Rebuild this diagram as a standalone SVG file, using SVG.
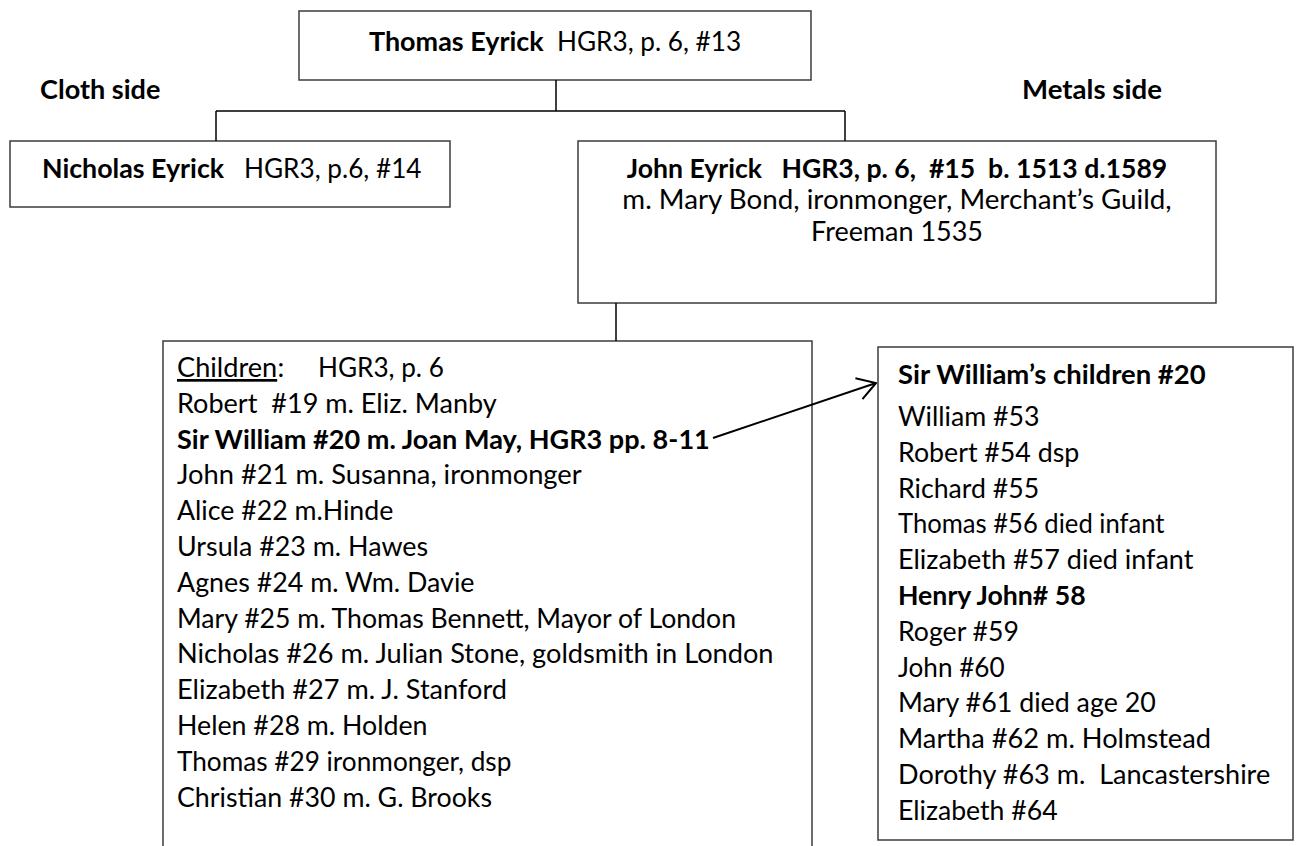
<svg xmlns="http://www.w3.org/2000/svg" width="1301" height="846" viewBox="0 0 1301 846" xml:space="preserve">
<style>
.box{fill:#fff;stroke:#3c3c3c;stroke-width:1.5}
.con{fill:none;stroke:#000;stroke-width:1.5}
.arr{fill:none;stroke:#000;stroke-width:2}
text{font-family:Lato,"Liberation Sans",sans-serif;font-size:27px;fill:#000;white-space:pre}
.b{font-weight:bold}
.m{text-anchor:middle}
</style>
<defs>
<marker id="open" markerUnits="userSpaceOnUse" viewBox="0 0 20 24" refX="19" refY="12" markerWidth="20" markerHeight="24" orient="auto">
<path d="M1,1 L19,12 L1,23" fill="none" stroke="#000" stroke-width="2"/>
</marker>
</defs>
<rect width="1301" height="846" fill="#fff"/>
<g id="label-cloth"><text class="b" x="40" y="99" textLength="120.4" lengthAdjust="spacingAndGlyphs">Cloth side</text></g>
<g id="label-metals"><text class="b" x="1022" y="99" textLength="139.9" lengthAdjust="spacingAndGlyphs">Metals side</text></g>
<g id="thomas">
<rect class="box" x="299" y="11" width="512" height="69"/>
<text class="b" x="369" y="51" textLength="174.7" lengthAdjust="spacingAndGlyphs">Thomas Eyrick</text>
<text x="557" y="51" textLength="184.1" lengthAdjust="spacingAndGlyphs">HGR3, p. 6, #13</text>
</g>
<g id="nicholas">
<rect class="box" x="10" y="141" width="440" height="66"/>
<text class="b" x="42" y="178" textLength="182.1" lengthAdjust="spacingAndGlyphs">Nicholas Eyrick</text>
<text x="244" y="178" textLength="177.5" lengthAdjust="spacingAndGlyphs">HGR3, p.6, #14</text>
</g>
<g id="john">
<rect class="box" x="578" y="141" width="638" height="162"/>
<text class="b m" x="897" y="178" textLength="540.6" lengthAdjust="spacingAndGlyphs">John Eyrick   HGR3, p. 6,  #15  b. 1513 d.1589</text>
<text class="m" x="897" y="209" textLength="549.3" lengthAdjust="spacingAndGlyphs">m. Mary Bond, ironmonger, Merchant’s Guild,</text>
<text class="m" x="897" y="241" textLength="171.9" lengthAdjust="spacingAndGlyphs">Freeman 1535</text>
</g>
<g id="children">
<rect class="box" x="163" y="341" width="649" height="520"/>
<text x="177" y="377" text-decoration="underline" textLength="100.2" lengthAdjust="spacingAndGlyphs">Children</text>
<text x="277.5" y="377">:</text>
<text x="318" y="377" textLength="125.8" lengthAdjust="spacingAndGlyphs">HGR3, p. 6</text>
<text x="177" y="412.8" textLength="319.8" lengthAdjust="spacingAndGlyphs">Robert  #19 m. Eliz. Manby</text>
<text class="b" x="177" y="448.6" textLength="532.8" lengthAdjust="spacingAndGlyphs">Sir William #20 m. Joan May, HGR3 pp. 8-11</text>
<text x="177" y="484.4" textLength="404.7" lengthAdjust="spacingAndGlyphs">John #21 m. Susanna, ironmonger</text>
<text x="177" y="520.2" textLength="216.3" lengthAdjust="spacingAndGlyphs">Alice #22 m.Hinde</text>
<text x="177" y="556" textLength="251.1" lengthAdjust="spacingAndGlyphs">Ursula #23 m. Hawes</text>
<text x="177" y="591.8" textLength="297.5" lengthAdjust="spacingAndGlyphs">Agnes #24 m. Wm. Davie</text>
<text x="177" y="627.6" textLength="559" lengthAdjust="spacingAndGlyphs">Mary #25 m. Thomas Bennett, Mayor of London</text>
<text x="177" y="663.4" textLength="596.5" lengthAdjust="spacingAndGlyphs">Nicholas #26 m. Julian Stone, goldsmith in London</text>
<text x="177" y="699.2" textLength="329.9" lengthAdjust="spacingAndGlyphs">Elizabeth #27 m. J. Stanford</text>
<text x="177" y="735" textLength="250.5" lengthAdjust="spacingAndGlyphs">Helen #28 m. Holden</text>
<text x="177" y="770.8" textLength="334.4" lengthAdjust="spacingAndGlyphs">Thomas #29 ironmonger, dsp</text>
<text x="177" y="806.6" textLength="315" lengthAdjust="spacingAndGlyphs">Christian #30 m. G. Brooks</text>
</g>
<g id="sir-william-children">
<rect class="box" x="878" y="347" width="415" height="493"/>
<text class="b" x="898" y="384" textLength="307.6" lengthAdjust="spacingAndGlyphs">Sir William’s children #20</text>
<text x="898" y="426" textLength="141.5" lengthAdjust="spacingAndGlyphs">William #53</text>
<text x="898" y="461.8" textLength="181.3" lengthAdjust="spacingAndGlyphs">Robert #54 dsp</text>
<text x="898" y="497.6" textLength="141.1" lengthAdjust="spacingAndGlyphs">Richard #55</text>
<text x="898" y="533.4" textLength="266.5" lengthAdjust="spacingAndGlyphs">Thomas #56 died infant</text>
<text x="898" y="569.2" textLength="295.4" lengthAdjust="spacingAndGlyphs">Elizabeth #57 died infant</text>
<text class="b" x="898" y="605" textLength="187.7" lengthAdjust="spacingAndGlyphs">Henry John# 58</text>
<text x="898" y="640.8" textLength="121" lengthAdjust="spacingAndGlyphs">Roger #59</text>
<text x="898" y="676.6" textLength="106.6" lengthAdjust="spacingAndGlyphs">John #60</text>
<text x="898" y="712.4" textLength="257.8" lengthAdjust="spacingAndGlyphs">Mary #61 died age 20</text>
<text x="898" y="748.2" textLength="313" lengthAdjust="spacingAndGlyphs">Martha #62 m. Holmstead</text>
<text x="898" y="784" textLength="372.2" lengthAdjust="spacingAndGlyphs">Dorothy #63 m.  Lancastershire</text>
<text x="898" y="819.8" textLength="159.6" lengthAdjust="spacingAndGlyphs">Elizabeth #64</text>
</g>
<g id="connectors">
<path class="con" d="M556,80 V111 M216,111 H845 M216,111 V141 M845,111 V141 M616,303 V341"/>
<path class="arr" d="M713,438 L876,383" marker-end="url(#open)"/>
</g>
</svg>
